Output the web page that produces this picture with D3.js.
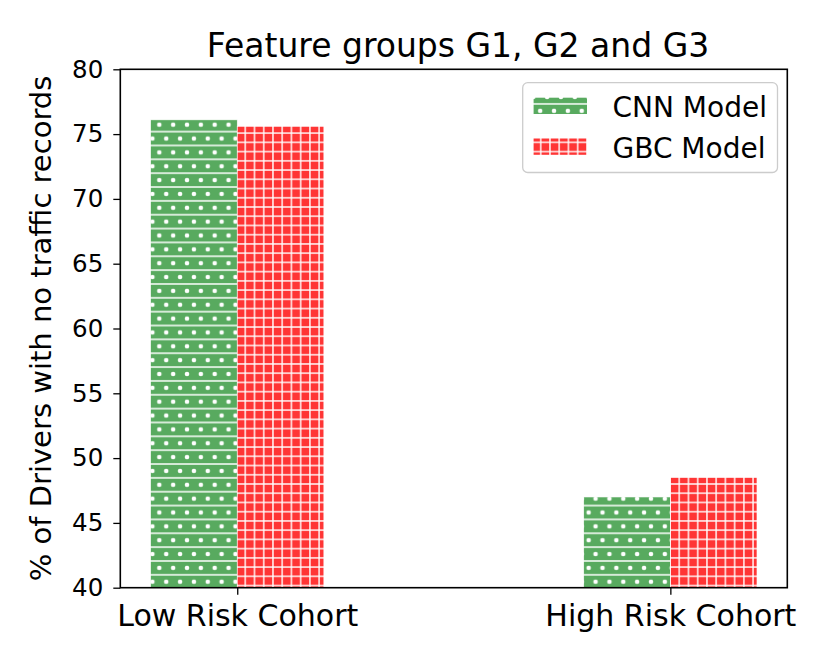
<!DOCTYPE html>
<html>
<head>
<meta charset="utf-8">
<script src="https://cdn.jsdelivr.net/npm/d3@7"></script>
<style>
  body { margin: 0; background: #fff; }
  text { font-family: "DejaVu Sans", sans-serif; fill: #000; }
</style>
</head>
<body>
<svg id="chart" width="830" height="664"></svg>
<script>
// data
const cohorts = ["Low Risk Cohort", "High Risk Cohort"];
const models = ["CNN Model", "GBC Model"];
const cnnValues = [76.1, 47.0];
const gbcValues = [75.6, 48.5];
const yTicks = [40, 45, 50, 55, 60, 65, 70, 75, 80];

const svg = d3.select("#chart");
const plotLeft = 120.3, plotRight = 787.3, plotTop = 69.3, plotBottom = 587.7;
const barWidth = 0.2;

// matplotlib style: categories at 0 and 1, 5% margins
const x = d3.scaleLinear().domain([-0.27, 1.27]).range([plotLeft, plotRight]);
const y = d3.scaleLinear().domain([40, 80]).range([plotBottom, plotTop]);

// hatch patterns, anchored to the figure like matplotlib does
const P = 13.85;
const defs = svg.append("defs");

const dots = defs.append("pattern")
  .attr("id", "hatchCNN")
  .attr("patternUnits", "userSpaceOnUse")
  .attr("x", 159.3 - P / 2).attr("y", 124.7 - P / 2)
  .attr("width", P).attr("height", 2 * P);
dots.append("rect").attr("width", P).attr("height", 2 * P).attr("fill", "#58aa5f");
dots.append("circle").attr("cx", P / 2).attr("cy", P / 2).attr("r", 2.3).attr("fill", "#fff");
dots.append("circle").attr("cx", 0).attr("cy", 1.5 * P).attr("r", 2.3).attr("fill", "#fff");
dots.append("circle").attr("cx", P).attr("cy", 1.5 * P).attr("r", 2.3).attr("fill", "#fff");
dots.append("path")
  .attr("d", `M0,0H${P}M0,${P}H${P}M0,${2 * P}H${P}`)
  .attr("stroke", "#fff").attr("stroke-width", 1.3);

const Q = P * 2 / 3;
const grid = defs.append("pattern")
  .attr("id", "hatchGBC")
  .attr("patternUnits", "userSpaceOnUse")
  .attr("x", 670).attr("y", 484)
  .attr("width", Q).attr("height", Q);
grid.append("rect").attr("width", Q).attr("height", Q).attr("fill", "#ff3535");
grid.append("path")
  .attr("d", `M0,0H${Q}M0,${Q}H${Q}M0,0V${Q}M${Q},0V${Q}`)
  .attr("stroke", "#fff").attr("stroke-width", 1.4).attr("fill", "none");

// bars
const series = [
  {name: models[0], values: cnnValues, offset: -barWidth, fill: "url(#hatchCNN)"},
  {name: models[1], values: gbcValues, offset: 0, fill: "url(#hatchGBC)"}
];

series.forEach(s => {
  svg.append("g").selectAll("rect")
    .data(s.values)
    .join("rect")
    .attr("x", (d, i) => x(i + s.offset))
    .attr("width", x(barWidth) - x(0))
    .attr("y", d => y(d))
    .attr("height", d => y(40) - y(d))
    .attr("fill", s.fill)
    .attr("stroke", "#fff")
    .attr("stroke-width", 0.6);
});

// axes
const yAxis = svg.append("g")
  .attr("transform", `translate(${plotLeft},0)`)
  .call(d3.axisLeft(y).tickValues(yTicks).tickSize(7).tickPadding(10));
yAxis.select(".domain").remove();
yAxis.selectAll("line").attr("stroke", "#000").attr("stroke-width", 1.3);
yAxis.selectAll("text").style("font-size", "24.5px").attr("font-family", "DejaVu Sans").attr("fill", "#000");

const xAxis = svg.append("g")
  .attr("transform", `translate(0,${plotBottom})`)
  .call(d3.axisBottom(x).tickValues([0, 1]).tickFormat(i => cohorts[i]).tickSize(7).tickPadding(10));
xAxis.select(".domain").remove();
xAxis.selectAll("line").attr("stroke", "#000").attr("stroke-width", 1.3);
xAxis.selectAll("text").style("font-size", "30px").attr("font-family", "DejaVu Sans").attr("fill", "#000");

// frame
svg.append("rect")
  .attr("x", plotLeft).attr("y", plotTop)
  .attr("width", plotRight - plotLeft).attr("height", plotBottom - plotTop)
  .attr("fill", "none").attr("stroke", "#000").attr("stroke-width", 1.6);

// title and y label
svg.append("text")
  .attr("x", 458).attr("y", 57)
  .attr("text-anchor", "middle")
  .style("font-size", "33px")
  .text("Feature groups G1, G2 and G3");

svg.append("text")
  .attr("transform", `translate(51,${(plotTop + plotBottom) / 2}) rotate(-90)`)
  .attr("text-anchor", "middle")
  .style("font-size", "29px")
  .text("% of Drivers with no traffic records");

// legend
const legend = svg.append("g");
legend.append("rect")
  .attr("x", 522.7).attr("y", 82.7).attr("width", 254.8).attr("height", 89.8)
  .attr("rx", 5).attr("fill", "#fff").attr("fill-opacity", 0.8)
  .attr("stroke", "#cccccc").attr("stroke-width", 1.3);

series.forEach((s, i) => {
  legend.append("rect")
    .attr("x", 533.6).attr("y", 97.7 + i * 40.8)
    .attr("width", 53.4).attr("height", 16.3)
    .attr("fill", s.fill);
  legend.append("text")
    .attr("x", 612.5).attr("y", 116.7 + i * 40.8)
    .style("font-size", "28px")
    .text(s.name);
});
</script>
</body>
</html>
